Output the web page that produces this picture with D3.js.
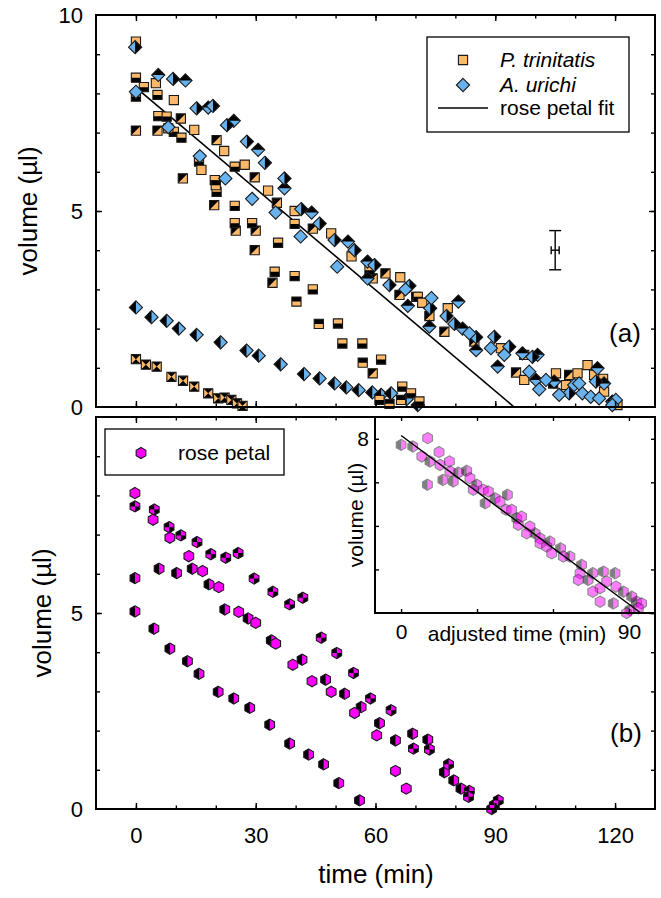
<!DOCTYPE html>
<html>
<head>
<meta charset="utf-8">
<script src="https://cdn.jsdelivr.net/npm/d3@7"></script>
<style>
  body { margin: 0; background: #fff; }
  svg { display: block; font-family: 'Liberation Sans', Arial, sans-serif; }
</style>
</head>
<body>
<svg id="chart" width="661" height="898"></svg>
<script>
// ---- panel (a): P. trinitatis runs (squares), [time min, volume ul]
const trinFull = [[0,9.32],[5,8.26],[9.5,7.83],[8.1,7.11],[14.6,7.07],[22.1,6.53],[16.4,6.05],[27.25,6.18],[33.1,5.52],[39.75,5.0],[48.9,4.43],[54,3.84],[66.2,3.31],[71.7,2.66],[78.1,2.52],[91.4,1.5],[97.25,0.69],[105.2,0.86],[110.6,0.86],[113.1,1.07],[114.75,0.82],[107.7,0.56],[117.25,0.39],[120.6,0.05]]
const trinBottom = [[0,8.4],[2,8.16],[0,7.92],[5.4,7.96],[5.6,7.42],[7.7,7.41],[9.5,7.02],[11.4,6.87],[15.8,6.26],[24.75,6.13],[19.75,5.79],[20.2,5.49],[24.75,5.13],[24.75,4.69],[29.1,4.69],[35.6,4.19],[39.75,4.67],[34.75,3.45],[39.75,3.34],[44.3,3.0],[50.6,2.13],[51.7,1.62],[56.7,1.62],[61.4,1.21],[61,0.18],[66.7,0.52],[68.9,0.35],[71,0.14],[70.6,2.81],[58.5,3.49],[104.5,0.6],[117,0.72]]
const trinTop = [[20,5.66],[40.2,2.69],[45.8,2.12],[56.8,1.13],[63.5,0.08],[66.4,0.18]]
const trinDiag = [[0,7.05],[5.4,7.05],[11.25,7.36],[20.2,6.81],[11.75,5.83],[29.75,5.86],[19.6,5.15],[35.3,5.21],[25,4.5],[30,4.5],[29.75,4.0],[34.2,3.17],[44.3,4.55],[59.3,0.86],[59.3,3.28],[62.5,3.41],[66,2.86],[70.2,2.81],[73.5,2.32],[77.25,1.92],[84.75,1.67],[95.2,0.88],[97.25,1.33],[108.5,0.82]]
const trinBow = [[0,1.22],[2.5,1.08],[5.2,1.03],[8.9,0.77],[11.8,0.67],[14.6,0.52],[18.1,0.35],[20.6,0.22],[22.2,0.24],[23.9,0.18],[25.3,0.09],[26.7,0.03]]

// ---- panel (a): A. urichi runs (diamonds)
const urichFull = [[0,8.04],[8.1,7.14],[16,6.4],[22.4,5.83],[29.1,5.31],[35,4.96],[41.25,4.35],[50.4,3.58],[67.5,3.0],[74,2.78],[83.5,1.88],[88.9,1.5],[92.25,1.33],[98.5,0.9],[102.7,0.69],[106,0.31],[109.75,0.56],[111.8,0.35],[113.9,0.26],[116,0.22],[120.2,0.18],[119.3,0.05],[111,0.6],[101,0.45]]
const urichRight = [[-0.2,9.18],[9.3,8.37],[15.2,7.62],[19.3,7.68],[22.8,7.19],[27.8,6.77],[32.3,6.23],[37.2,5.83],[41.4,5.05],[46,4.68],[49.75,4.26],[54.75,4.0],[59.75,3.62],[63.5,3.11],[68.5,3.09],[73.7,2.52],[77.8,2.32],[79.75,2.12],[85.2,1.78],[89.75,1.79],[93.5,1.54],[99.3,1.28],[108.5,0.35],[115.2,0.65]]
const urichTop = [[5.6,8.47],[12.4,8.33],[18.1,7.64],[24.5,7.3],[30.6,6.56],[37.2,5.58],[44,4.96],[53.1,4.22],[58,3.71],[58,3.28],[68.1,2.58],[73.5,2.05],[80.75,2.69],[81.8,2.0],[85.2,1.45],[90.6,1.03],[96.8,1.37],[100.6,1.33],[100.2,0.69],[104.75,0.65],[115.6,0.99],[117.25,0.6],[119.3,0.14]]
const urichLeft = [[0,2.54],[3.9,2.29],[7.7,2.2],[10.75,2.0],[15.2,1.84],[21.2,1.65],[27.7,1.44],[30.75,1.31],[36.25,1.09],[42.1,0.84],[46,0.73],[49.75,0.6],[52.7,0.5],[55.8,0.43],[59.2,0.37],[61.4,0.31],[63.9,0.35],[67.8,0.2],[70.6,0.05]]

// rose petal fit line, error bar (t, v, +-t, +-v)
const fitLine = [[0,8.15],[94.7,0]]
const errBar = [105, 4.0, 1.0, 0.5]

// ---- panel (b): rose petal runs (hexagons)
const roseFull = [[-0.25,8.06],[4.3,7.38],[8.5,6.92],[13.25,6.45],[16.7,6.07],[20.75,5.66],[25.75,5.03],[30,4.75],[35,4.22],[39.3,3.68],[44.1,3.26],[48.9,2.99],[54.75,2.45],[60.3,1.88],[65,0.97],[67.7,0.52]]
const roseHalfA = [[-0.25,5.89],[5.8,6.13],[10.2,6.02],[14.1,6.13],[18.3,5.73],[22.25,5.09],[28.1,4.86],[33.9,4.3],[41.6,3.81],[47.5,3.3],[52.25,2.94],[56.4,2.6],[61,2.19],[65,1.75],[69.3,1.92],[73.1,1.77],[77.25,0.94],[79.6,0.73],[81.4,0.52]]
const roseHalfB = [[-0.25,5.04],[4.5,4.6],[8.5,4.09],[12.9,3.77],[15.8,3.45],[20.6,2.99],[24.5,2.82],[28.5,2.58],[33.5,2.15],[38.5,1.67],[43.25,1.39],[47,1.14],[50.8,0.66],[56,0.22]]
const roseChecker = [[-0.25,7.72],[4.6,7.64],[8.3,7.19],[11.25,6.98],[15.3,6.81],[18.75,6.5],[22.5,6.41],[25.6,6.53],[29.6,5.88],[34.3,5.54],[38.5,5.22],[41.8,5.39],[46.4,4.37],[50.3,3.98],[54.5,3.47],[58.75,2.82],[63.9,2.52],[69.5,1.54],[73.5,1.52],[78.3,1.14],[83.5,0.46],[83.3,0.31],[89.1,0],[89.75,0.1],[90.75,0.22]]

// ---- inset: adjusted time
const insetFull = [[10.5,8.03],[15,7.39],[15.4,6.8],[19.1,6.96],[19.3,6.5],[27.2,6.19],[28.5,5.66],[32.5,5.66],[34.5,5.58],[39.1,5.12],[41.5,4.74],[43.7,4.74],[47.6,4.43],[46.3,4.05],[50.9,3.97],[49.6,3.66],[54.9,3.43],[54.9,3.2],[57.5,3.05],[59.5,2.74],[64.1,2.59],[70.7,1.83],[70,1.52],[78.6,1.14],[78.6,0.52],[75.7,0.98],[81.2,1.44],[84.9,1.21],[89.1,0],[95,0.44],[93.7,0.22],[8.2,7.19]]
const insetHalf = [[0,7.72],[4.6,7.65],[11.4,6.96],[22.6,6.45],[25.9,6.53],[10.4,5.89],[16.5,6.11],[20.6,6.04],[29.9,5.89],[33.2,5.04],[37.1,5.27],[42,5.43],[45.7,4.35],[52.9,3.66],[58.8,3.28],[63,2.97],[66.7,2.59],[71.3,2.21],[73.9,1.52],[75.7,1.83],[79.9,1.9],[84.5,1.83],[83.8,0.44],[87.8,0.98],[91.1,0.75],[90.4,0.14],[93,0.52]]

const xMinor = d3.range(0, 121, 10)
const xMajor = [0, 30, 60, 90, 120]
const yMinor = d3.range(1, 10)
const yLabelsA = [0, 5, 10]
const yLabelsB = [0, 5]
const insetXTicks = [0, 30, 60, 90]
const insetYTicks = [2, 4, 6, 8]

const ORANGE = '#fdb868', BLUE = '#68b2ee', PINK = '#ff00ff'

const svg = d3.select('#chart')
const x = d3.scaleLinear().domain([-10, 130]).range([96, 655])
const yA = d3.scaleLinear().domain([0, 10]).range([407, 15])
const yB = d3.scaleLinear().domain([0, 10]).range([809, 417])
const xIn = d3.scaleLinear().domain([-10.3, 100.3]).range([375, 655])
const yIn = d3.scaleLinear().domain([0, 9]).range([613, 417])

const hex = d3.range(6).map(i => [5.6 * Math.sin(i * Math.PI / 3), -5.6 * Math.cos(i * Math.PI / 3)])
const shapes = {
  square: 'M-4.6,-4.6h9.2v9.2h-9.2Z',
  diamond: 'M0,-6.6L6.6,0L0,6.6L-6.6,0Z',
  hexagon: 'M' + hex.join('L') + 'Z'
}
const blacks = {
  full: null,
  bottom: 'M-8,0H8V8H-8Z',
  top: 'M-8,-8H8V0H-8Z',
  left: 'M-8,-8H0V8H-8Z',
  right: 'M0,-8H8V8H0Z',
  diag: 'M-8,-8L8,-8L-8,8Z',
  bowtie: 'M-8,-8L8,-8L0,0ZM-8,8L8,8L0,0Z',
  checker: 'M-8,-8H0V0H-8ZM0,0H8V8H0Z'
}

const defs = svg.append('defs')
Object.keys(shapes).forEach(k => {
  defs.append('clipPath').attr('id', 'clip-' + k).append('path').attr('d', shapes[k])
})

function markers(parent, data, xs, ys, shape, color, style, opacity) {
  const m = parent.append('g').selectAll('g').data(data).join('g')
    .attr('transform', d => `translate(${xs(d[0])},${ys(d[1])})`)
    .attr('opacity', opacity || 1)
  m.append('path').attr('d', shapes[shape]).attr('fill', color)
  if (blacks[style]) {
    m.append('path').attr('d', blacks[style]).attr('fill', '#000')
      .attr('clip-path', `url(#clip-${shape})`)
  }
  m.append('path').attr('d', shapes[shape]).attr('fill', 'none')
    .attr('stroke', '#1a1a1a').attr('stroke-width', 1.1)
}

function axis(fn, scale, values, size, tx, ty, labels, pad) {
  const ax = fn(scale).tickValues(values).tickSize(size).tickSizeOuter(0)
    .tickPadding(pad || 3)
  if (!labels) ax.tickFormat('')
  const g = svg.append('g').attr('transform', `translate(${tx},${ty})`).call(ax)
  g.select('.domain').remove()
  g.selectAll('line').attr('stroke', '#000').attr('stroke-width', 1.4)
  g.selectAll('text').attr('font-size', 22).attr('font-family', null).attr('fill', '#000')
  return g
}

function frame(xs, ys) {
  svg.append('rect')
    .attr('x', xs.range()[0]).attr('y', ys.range()[1])
    .attr('width', xs.range()[1] - xs.range()[0])
    .attr('height', ys.range()[0] - ys.range()[1])
    .attr('fill', 'none').attr('stroke', '#000').attr('stroke-width', 2)
}

// ---------- panel (a)
const line = ys => d3.line().x(d => x(d[0])).y(d => ys(d[1]))
svg.append('path').datum(fitLine).attr('d', line(yA)).attr('fill', 'none')
  .attr('stroke', '#000').attr('stroke-width', 1.6)

const gA = svg.append('g')
markers(gA, trinBow, x, yA, 'square', ORANGE, 'bowtie')
markers(gA, urichLeft, x, yA, 'diamond', BLUE, 'left')
markers(gA, trinDiag, x, yA, 'square', ORANGE, 'diag')
markers(gA, trinBottom, x, yA, 'square', ORANGE, 'bottom')
markers(gA, trinTop, x, yA, 'square', ORANGE, 'top')
markers(gA, trinFull, x, yA, 'square', ORANGE, 'full')
markers(gA, urichTop, x, yA, 'diamond', BLUE, 'top')
markers(gA, urichRight, x, yA, 'diamond', BLUE, 'right')
markers(gA, urichFull, x, yA, 'diamond', BLUE, 'full')

// error bar
const eb = svg.append('g').attr('stroke', '#000').attr('stroke-width', 1.4)
const ex = x(errBar[0]), ey = yA(errBar[1])
eb.append('line').attr('x1', ex).attr('x2', ex).attr('y1', yA(errBar[1] + errBar[3])).attr('y2', yA(errBar[1] - errBar[3]))
eb.append('line').attr('x1', ex - 6).attr('x2', ex + 6).attr('y1', yA(errBar[1] + errBar[3])).attr('y2', yA(errBar[1] + errBar[3]))
eb.append('line').attr('x1', ex - 6).attr('x2', ex + 6).attr('y1', yA(errBar[1] - errBar[3])).attr('y2', yA(errBar[1] - errBar[3]))
eb.append('line').attr('x1', x(errBar[0] - errBar[2])).attr('x2', x(errBar[0] + errBar[2])).attr('y1', ey).attr('y2', ey)
eb.append('line').attr('x1', x(errBar[0] - errBar[2])).attr('x2', x(errBar[0] - errBar[2])).attr('y1', ey - 4).attr('y2', ey + 4)
eb.append('line').attr('x1', x(errBar[0] + errBar[2])).attr('x2', x(errBar[0] + errBar[2])).attr('y1', ey - 4).attr('y2', ey + 4)

frame(x, yA)
axis(d3.axisBottom, x, xMinor, -3.5, 0, 407)
axis(d3.axisBottom, x, xMajor, -6, 0, 407)
axis(d3.axisTop, x, xMinor, -3.5, 0, 15)
axis(d3.axisTop, x, xMajor, -6, 0, 15)
axis(d3.axisLeft, yA, yMinor, -4, 96, 0)
axis(d3.axisLeft, yA, [5], -6, 96, 0)
axis(d3.axisLeft, yA, yLabelsA, 0, 96, 0, true, 13)
axis(d3.axisRight, yA, yMinor, -4, 655, 0)
axis(d3.axisRight, yA, [5], -6, 655, 0)

// legend (a)
const legA = svg.append('g')
legA.append('rect').attr('x', 427).attr('y', 37).attr('width', 202).attr('height', 95)
  .attr('fill', '#fff').attr('stroke', '#000').attr('stroke-width', 1.3)
const legSq = legA.append('g').attr('transform', 'translate(463,60)')
legSq.append('path').attr('d', shapes.square).attr('fill', ORANGE).attr('stroke', '#1a1a1a').attr('stroke-width', 1.1)
const legDi = legA.append('g').attr('transform', 'translate(463,85)')
legDi.append('path').attr('d', shapes.diamond).attr('fill', BLUE).attr('stroke', '#1a1a1a').attr('stroke-width', 1.1)
legA.append('line').attr('x1', 438).attr('x2', 488).attr('y1', 108).attr('y2', 108)
  .attr('stroke', '#000').attr('stroke-width', 1.6)
legA.append('text').attr('x', 500).attr('y', 67).attr('font-size', 21).attr('font-style', 'italic').text('P. trinitatis')
legA.append('text').attr('x', 500).attr('y', 92).attr('font-size', 21).attr('font-style', 'italic').text('A. urichi')
legA.append('text').attr('x', 500).attr('y', 115).attr('font-size', 21).text('rose petal fit')

svg.append('text').attr('x', 625).attr('y', 342).attr('text-anchor', 'middle')
  .attr('font-size', 26).text('(a)')
svg.append('text').attr('transform', `translate(37,${yA(5)}) rotate(-90)`)
  .attr('text-anchor', 'middle').attr('font-size', 26).text('volume (\u00b5l)')

// ---------- panel (b)
const gB = svg.append('g')
markers(gB, roseHalfB, x, yB, 'hexagon', PINK, 'left')
markers(gB, roseHalfA, x, yB, 'hexagon', PINK, 'left')
markers(gB, roseFull, x, yB, 'hexagon', PINK, 'full')
markers(gB, roseChecker, x, yB, 'hexagon', PINK, 'checker')

frame(x, yB)
axis(d3.axisBottom, x, xMinor, -3.5, 0, 809)
axis(d3.axisBottom, x, xMajor, -6, 0, 809)
axis(d3.axisBottom, x, xMajor, 0, 0, 809, true, 18)
axis(d3.axisTop, x, xMinor, -3.5, 0, 417)
axis(d3.axisTop, x, xMajor, -6, 0, 417)
axis(d3.axisLeft, yB, yMinor, -4, 96, 0)
axis(d3.axisLeft, yB, [5], -6, 96, 0)
axis(d3.axisLeft, yB, yLabelsB, 0, 96, 0, true, 13)
axis(d3.axisRight, yB, yMinor, -4, 655, 0)
axis(d3.axisRight, yB, [5], -6, 655, 0)

// legend (b)
const legB = svg.append('g')
legB.append('rect').attr('x', 105).attr('y', 429).attr('width', 179).attr('height', 46)
  .attr('fill', '#fff').attr('stroke', '#000').attr('stroke-width', 1.3)
legB.append('path').attr('transform', 'translate(141,453)').attr('d', shapes.hexagon)
  .attr('fill', PINK).attr('stroke', '#1a1a1a').attr('stroke-width', 1.1)
legB.append('text').attr('x', 178).attr('y', 460).attr('font-size', 21).text('rose petal')

svg.append('text').attr('x', 626).attr('y', 742).attr('text-anchor', 'middle')
  .attr('font-size', 26).text('(b)')
svg.append('text').attr('transform', `translate(51,${yB(5)}) rotate(-90)`)
  .attr('text-anchor', 'middle').attr('font-size', 26).text('volume (\u00b5l)')
svg.append('text').attr('x', 376).attr('y', 883).attr('text-anchor', 'middle')
  .attr('font-size', 26).text('time (min)')

// ---------- inset
svg.append('rect').attr('x', 375).attr('y', 417).attr('width', 280).attr('height', 196)
  .attr('fill', '#fff')
const gI = svg.append('g')
markers(gI, insetHalf, xIn, yIn, 'hexagon', PINK, 'left', 0.5)
markers(gI, insetFull, xIn, yIn, 'hexagon', PINK, 'full', 0.5)
svg.append('path').datum(fitLine)
  .attr('d', d3.line().x(d => xIn(d[0])).y(d => yIn(d[1])))
  .attr('fill', 'none').attr('stroke', '#000').attr('stroke-width', 1.5)
frame(xIn, yIn)
axis(d3.axisBottom, xIn, insetXTicks, -4, 0, 613)
axis(d3.axisTop, xIn, insetXTicks, -4, 0, 417)
axis(d3.axisLeft, yIn, insetYTicks, -4, 375, 0)
axis(d3.axisRight, yIn, insetYTicks, -4, 655, 0)
axis(d3.axisBottom, xIn, [0, 90], 0, 0, 613, true, 11).selectAll('text').attr('font-size', 21)
axis(d3.axisLeft, yIn, [8], 0, 375, 0, true, 6).selectAll('text').attr('font-size', 21)
svg.append('text').attr('x', 517).attr('y', 641).attr('text-anchor', 'middle')
  .attr('font-size', 21).text('adjusted time (min)')
svg.append('text').attr('transform', `translate(363,${yIn(4.5)}) rotate(-90)`)
  .attr('text-anchor', 'middle').attr('font-size', 21).text('volume (\u00b5l)')
</script>
</body>
</html>
